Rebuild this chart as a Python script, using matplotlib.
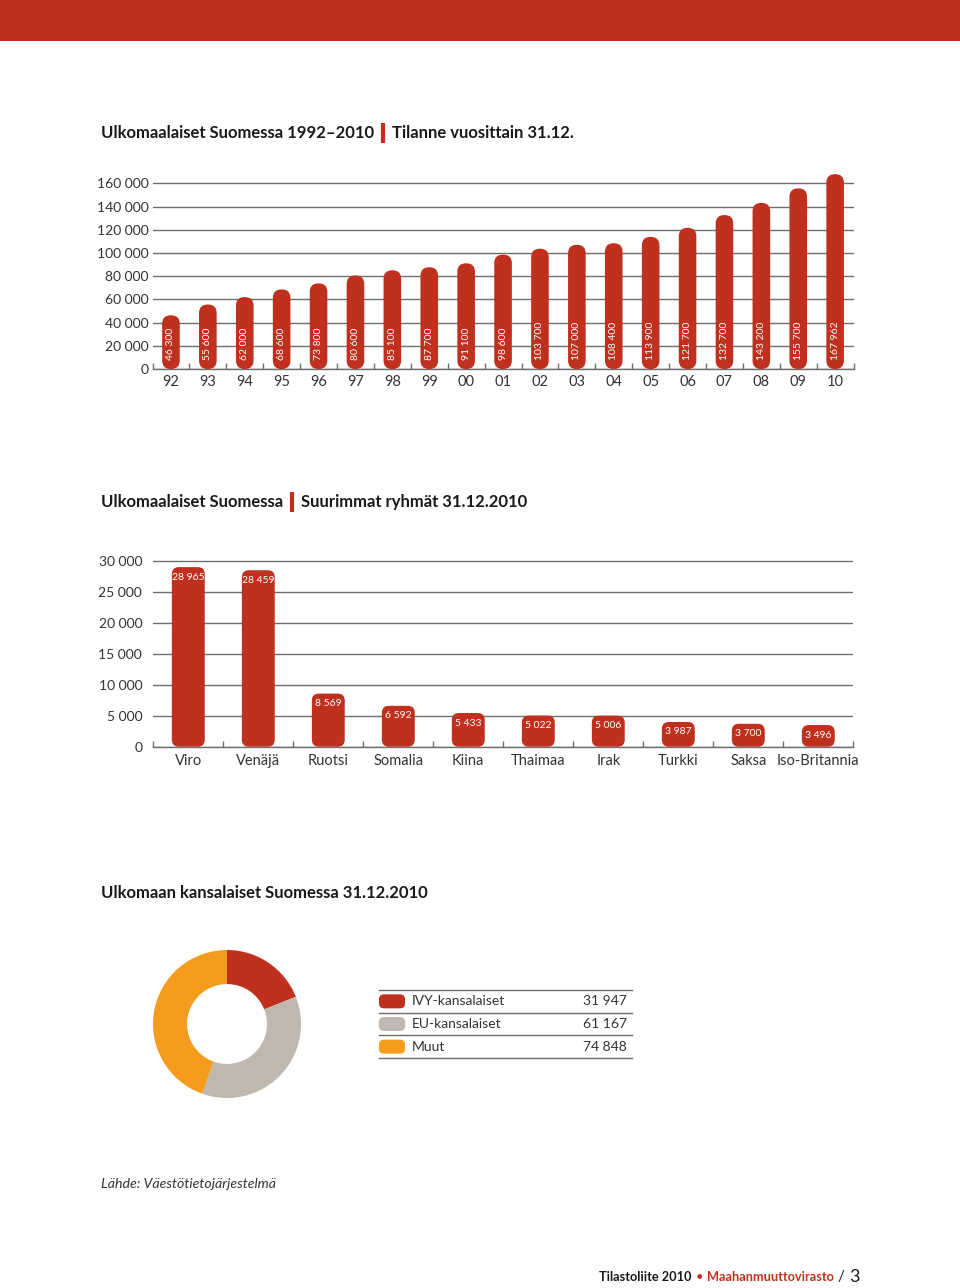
import numpy as np
import matplotlib.pyplot as plt
from matplotlib.patches import FancyBboxPatch, Rectangle

plt.rcParams['font.family'] = ['Lato', 'DejaVu Sans']

# data
years = ['92', '93', '94', '95', '96', '97', '98', '99', '00', '01',
         '02', '03', '04', '05', '06', '07', '08', '09', '10']
totals = [46300, 55600, 62000, 68600, 73800, 80600, 85100, 87700, 91100, 98600,
          103700, 107000, 108400, 113900, 121700, 132700, 143200, 155700, 167962]

countries = ['Viro', 'Venäjä', 'Ruotsi', 'Somalia', 'Kiina', 'Thaimaa',
             'Irak', 'Turkki', 'Saksa', 'Iso-Britannia']
country_counts = [28965, 28459, 8569, 6592, 5433, 5022, 5006, 3987, 3700, 3496]

groups = ['IVY-kansalaiset', 'EU-kansalaiset', 'Muut']
group_counts = [31947, 61167, 74848]

RED = '#c0301e'
GREY_SLICE = '#bfb8af'
ORANGE = '#f59b1d'
TXT = '#333333'
GRID = '#6e6e6e'

W, H = 960, 1288
fig = plt.figure(figsize=(W / 100, H / 100), dpi=100)


def box(x0, y0, x1, y1):
    # pixel box (top-left origin) -> figure fraction
    return [x0 / W, 1 - y1 / H, (x1 - x0) / W, (y1 - y0) / H]


def fmt(v):
    return f"{v:,}".replace(',', ' ')


def round_bars(ax, bars, r_px):
    pos = ax.get_position()
    x0, x1 = ax.get_xlim()
    y0, y1 = ax.get_ylim()
    ux = (x1 - x0) / (pos.width * W)
    uy = (y1 - y0) / (pos.height * H)
    for b in bars:
        x, y = b.get_xy()
        p = FancyBboxPatch((x, y), b.get_width(), b.get_height(),
                           boxstyle=f"round,pad=0,rounding_size={r_px * ux}",
                           mutation_aspect=uy / ux, fc=b.get_facecolor(),
                           ec='none', zorder=3)
        ax.add_patch(p)
        b.remove()


def style_axes(ax, ypad):
    for s in ['top', 'right', 'left']:
        ax.spines[s].set_visible(False)
    ax.spines['bottom'].set_color(GRID)
    ax.spines['bottom'].set_linewidth(1)
    ax.set_facecolor('none')
    ax.tick_params(axis='y', length=0, labelsize=10, labelcolor=TXT, pad=ypad)
    ax.tick_params(axis='x', which='major', length=0, labelsize=10.5, labelcolor=TXT)
    ax.tick_params(axis='x', which='minor', direction='in', length=4, color=GRID, width=1)
    ax.set_axisbelow(True)
    ax.yaxis.grid(True, color=GRID, lw=1)


# page layer
page = fig.add_axes([0, 0, 1, 1])
page.set_xlim(0, W)
page.set_ylim(H, 0)
page.axis('off')
page.add_patch(Rectangle((0, 0), W, 41, color=RED, lw=0))

renderer = fig.canvas.get_renderer()


def text_run(x, y, pieces, gap=7):
    # pieces: list of (text, kwargs) or ('|', None) for a red bar
    for txt, kw in pieces:
        if txt == '|':
            page.plot([x + 2, x + 2], [y - 10, y + 10], color=RED, lw=3, solid_capstyle='butt')
            x += 4 + gap
            continue
        t = page.text(x, y, txt, va='center', ha='left', **kw)
        bb = t.get_window_extent(renderer)
        x += bb.width + gap


title_kw = dict(fontsize=12, fontweight='bold', color='#1a1a1a')
text_run(101, 133, [('Ulkomaalaiset Suomessa 1992–2010', title_kw), ('|', None),
                    ('Tilanne vuosittain 31.12.', title_kw)])
text_run(101, 502, [('Ulkomaalaiset Suomessa', title_kw), ('|', None),
                    ('Suurimmat ryhmät 31.12.2010', title_kw)])
page.text(101, 893, 'Ulkomaan kansalaiset Suomessa 31.12.2010', va='center', **title_kw)

# chart 1: yearly totals
ax1 = fig.add_axes(box(152.5, 166, 853.6, 369))
ax1.set_xlim(-0.5, len(years) - 0.5)
ax1.set_ylim(0, 175000)
bars = ax1.bar(range(len(years)), totals, width=0.477, color=RED)
round_bars(ax1, bars, 8.5)
style_axes(ax1, 3)
ax1.set_yticks(np.arange(0, 160001, 20000))
ax1.set_yticklabels([fmt(v) for v in np.arange(0, 160001, 20000)])
ax1.set_xticks(range(len(years)))
ax1.set_xticklabels(years)
ax1.set_xticks(np.arange(-0.5, len(years)), minor=True)
ax1.tick_params(axis='x', which='major', pad=4)
for i, v in enumerate(totals):
    ax1.annotate(fmt(v), (i, 0), xytext=(0, 6.5), textcoords='offset points',
                 rotation=90, ha='center', va='bottom', color='white',
                 fontsize=7.5, zorder=4)

# chart 2: largest groups
ax2 = fig.add_axes(box(153.3, 557.6, 853.3, 746.7))
ax2.set_xlim(-0.5, len(countries) - 0.5)
ax2.set_ylim(0, 30500)
bars = ax2.bar(range(len(countries)), country_counts, width=0.47, color=RED)
round_bars(ax2, bars, 7)
style_axes(ax2, 8)
ax2.set_yticks(np.arange(0, 30001, 5000))
ax2.set_yticklabels([fmt(v) for v in np.arange(0, 30001, 5000)])
ax2.set_xticks(range(len(countries)))
ax2.set_xticklabels(countries)
ax2.set_xticks(np.arange(-0.5, len(countries)), minor=True)
ax2.tick_params(axis='x', which='major', pad=5)
for i, v in enumerate(country_counts):
    ax2.annotate(fmt(v), (i, v), xytext=(0, -7.2), textcoords='offset points',
                 ha='center', va='center', color='white', fontsize=7.5, zorder=4)

# chart 3: donut
ax3 = fig.add_axes(box(153, 950, 301, 1098))
colors = [RED, GREY_SLICE, ORANGE]
ax3.pie(group_counts, colors=colors, startangle=90, counterclock=False,
        wedgeprops=dict(width=0.46, edgecolor='none'))
ax3.set_xlim(-1, 1)
ax3.set_ylim(-1, 1)
ax3.set_aspect('equal')

# legend table
row_lines = [990, 1012.7, 1035.3, 1058]
for yl in row_lines:
    page.plot([379, 632], [yl, yl], color=GRID, lw=1)
for k, (g, c) in enumerate(zip(groups, group_counts)):
    yc = (row_lines[k] + row_lines[k + 1]) / 2
    page.add_patch(FancyBboxPatch((379, yc - 7), 26, 14,
                                  boxstyle="round,pad=0,rounding_size=5",
                                  fc=colors[k], ec='none'))
    page.text(411.5, yc, g, va='center', ha='left', fontsize=10, color=TXT)
    page.text(627, yc, fmt(c), va='center', ha='right', fontsize=10, color=TXT)

# source and footer
page.text(101, 1184, 'Lähde: Väestötietojärjestelmä', va='center', ha='left',
          fontsize=10.2, style='italic', color=TXT)
text_run(599, 1277, [('Tilastoliite 2010', dict(fontsize=9.2, fontweight='bold', color='#1a1a1a')),
                     ('•', dict(fontsize=9.2, color=RED)),
                     ('Maahanmuuttovirasto', dict(fontsize=9.2, fontweight='bold', color=RED)),
                     ('/', dict(fontsize=11, color='#1a1a1a')),
                     ('3', dict(fontsize=13, color='#1a1a1a'))], gap=4)

fig.savefig('out.png', dpi=100)
